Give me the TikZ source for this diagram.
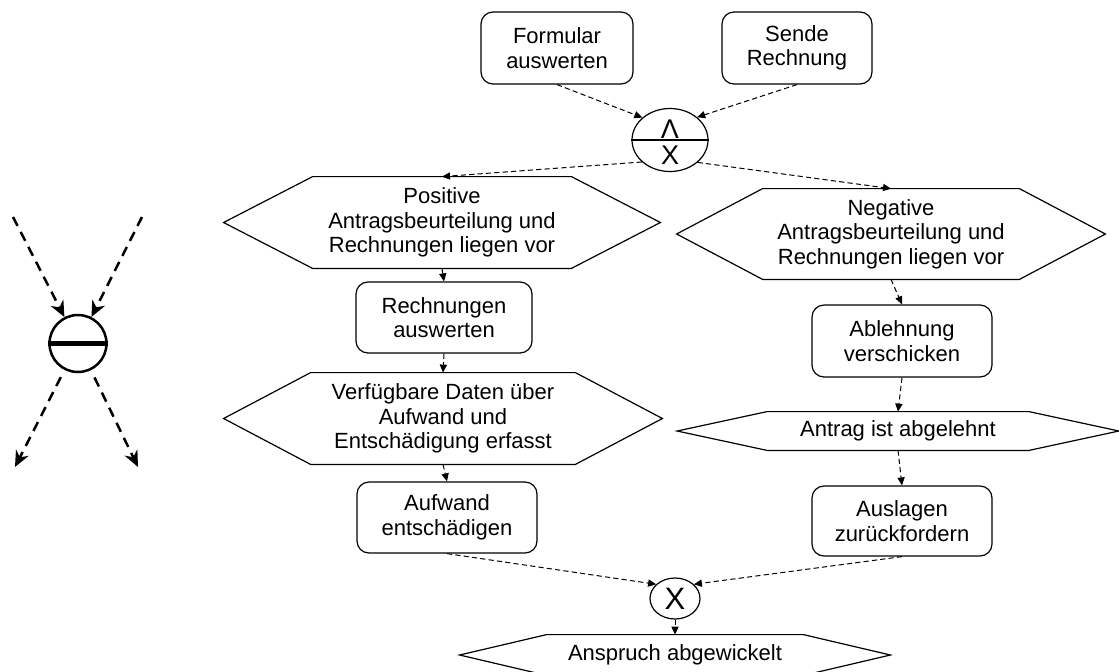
\documentclass[tikz,border=0pt]{standalone}
\usepackage{fontspec}
\setmainfont{Liberation Sans}
\usetikzlibrary{arrows.meta,shapes.geometric}

% outline of an event hexagon around a named node; #2 = depth of the side points
\newcommand\hexframe[2]{%
  \draw[shapeline] (#1.west) -- ([xshift=#2]#1.north west) -- ([xshift=-#2]#1.north east)
    -- (#1.east) -- ([xshift=-#2]#1.south east) -- ([xshift=#2]#1.south west) -- cycle;}

\tikzset{
  txt/.style={font=\fontsize{11}{12.25}\selectfont, align=center, inner sep=0pt},
  shapeline/.style={line width=0.6pt},
  task/.style={txt, draw, shapeline, rounded corners=6pt},
  event/.style={txt},
  conn/.style={draw, ellipse, shapeline, inner sep=0pt},
  flow/.style={line width=0.5pt, dash pattern=on 2.6pt off 1.6pt,
    -{Triangle[length=4pt,width=3.6pt]}},
  bigflow/.style={line width=1.25pt, dash pattern=on 5pt off 3.4pt,
    -{Stealth[length=8pt,width=7pt,inset=2.6pt]}},
}

\begin{document}
\begin{tikzpicture}[x=0.5pt,y=-0.5pt]
\useasboundingbox (0,0) rectangle (1119,671);

% --- legend symbol on the left
\node[draw, circle, line width=1.25pt, minimum size=28.5pt, inner sep=0pt] (sym) at (78,343.5) {};
\draw[line width=2.5pt] (sym.west) -- (sym.east);
\coordinate (in1) at (13,217);
\coordinate (in2) at (142,217);
\coordinate (out1) at (15,467);
\coordinate (out2) at (138,467);
\draw[bigflow] (in1) -- (sym);
\draw[bigflow] (in2) -- (sym);
\draw[bigflow, shorten <=4pt] (sym) -- (out1);
\draw[bigflow, shorten <=4pt] (sym) -- (out2);

% --- functions (rounded boxes)
\node[task, minimum width=76pt, minimum height=36pt] (form) at (557,48) {Formular\\auswerten};
\node[task, minimum width=75pt, minimum height=36pt] (sende) at (797,48) {Sende\\Rechnung};
\node[task, minimum width=88pt, minimum height=35.5pt] (rech) at (444,317.5) {Rechnungen\\auswerten};
\node[task, minimum width=90pt, minimum height=35.5pt] (aufw) at (447,517.5) {Aufwand\\entschädigen};
\node[task, minimum width=90pt, minimum height=36pt] (abl) at (902,341) {Ablehnung\\verschicken};
\node[task, minimum width=90pt, minimum height=35pt] (ausl) at (902,521) {Auslagen\\zurückfordern};

% --- events (hexagons)
\node[event, minimum width=218pt, minimum height=45.5pt] (pos) at (442,222.5)
  {Positive\\Antragsbeurteilung und\\Rechnungen liegen vor};
\hexframe{pos}{44.5pt}
\node[event, minimum width=214pt, minimum height=45pt] (neg) at (891,234)
  {Negative\\Antragsbeurteilung und\\Rechnungen liegen vor};
\hexframe{neg}{43pt}
\node[event, minimum width=219pt, minimum height=45.5pt] (verf) at (443,418.5)
  {Verfügbare Daten über\\Aufwand und\\Entschädigung erfasst};
\hexframe{verf}{43.5pt}
\node[event, minimum width=220.5pt, minimum height=19pt] (antr) at (898,431) {Antrag ist abgelehnt};
\hexframe{antr}{45pt}
\node[event, minimum width=215pt, minimum height=20pt] (ansp) at (675,655) {Anspruch abgewickelt};
\hexframe{ansp}{43.5pt}

% --- connectors
\node[conn, minimum width=38pt, minimum height=31.5pt] (andx) at (670,140) {};
\draw[shapeline] (andx.west) -- (andx.east);
\node[inner sep=0pt, font=\fontsize{13.5}{13.5}\selectfont] (andsym) at (670,129) {Λ};
\node[inner sep=0pt, font=\fontsize{13.5}{13.5}\selectfont] (xorsym) at (670,155.5) {X};
\node[conn, minimum width=25pt, minimum height=20.5pt, font=\fontsize{15.5}{15.5}\selectfont] (xor) at (675,598.5) {X};

% --- control flow
\draw[flow] (form.south) -- (andx.141);
\draw[flow] (sende.south) -- (andx.40);
\draw[flow] (andx.218) -- (pos.north);
\draw[flow] (andx.321) -- (neg.north);
\draw[flow] (pos.south) -- (rech.north);
\draw[flow] (rech.south) -- (verf.north);
\draw[flow] (verf.south) -- (aufw.north);
\draw[flow] (neg.south) -- (abl.north);
\draw[flow] (abl.south) -- (antr.north);
\draw[flow] (antr.south) -- (ausl.north);
\draw[flow] (aufw.south) -- (xor.143);
\draw[flow] (ausl.south) -- (xor.37);
\draw[flow] (xor.south) -- (ansp.north);
\end{tikzpicture}
\end{document}
